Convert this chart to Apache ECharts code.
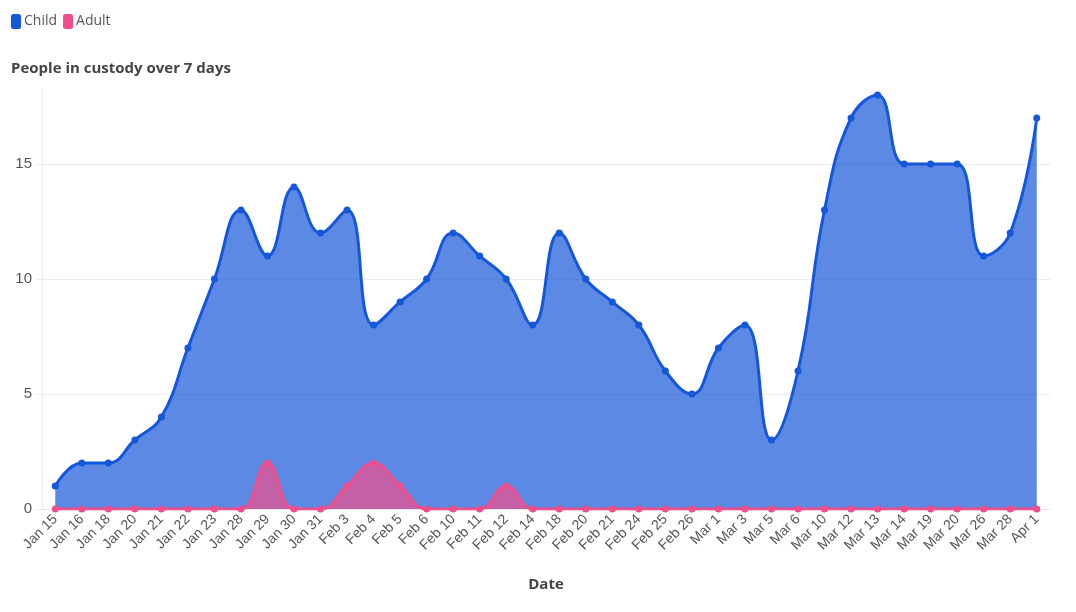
<!DOCTYPE html>
<html>
<head>
<meta charset="utf-8">
<script src="https://cdn.jsdelivr.net/npm/echarts@6/dist/echarts.min.js"></script>
<style>
  html, body { margin: 0; padding: 0; background: #fff; }
  #main { width: 1076px; height: 612px; }
</style>
</head>
<body>
<div id="main"></div>
<script>
// dates on the x axis
var dates = ['Jan 15', 'Jan 16', 'Jan 18', 'Jan 20', 'Jan 21', 'Jan 22', 'Jan 23', 'Jan 28', 'Jan 29', 'Jan 30',
  'Jan 31', 'Feb 3', 'Feb 4', 'Feb 5', 'Feb 6', 'Feb 10', 'Feb 11', 'Feb 12', 'Feb 14', 'Feb 18',
  'Feb 20', 'Feb 21', 'Feb 24', 'Feb 25', 'Feb 26', 'Mar 1', 'Mar 3', 'Mar 5', 'Mar 6', 'Mar 10',
  'Mar 12', 'Mar 13', 'Mar 14', 'Mar 19', 'Mar 20', 'Mar 26', 'Mar 28', 'Apr 1'];

// people in custody
var child = [1, 2, 2, 3, 4, 7, 10, 13, 11, 14,
  12, 13, 8, 9, 10, 12, 11, 10, 8, 12,
  10, 9, 8, 6, 5, 7, 8, 3, 6, 13,
  17, 18, 15, 15, 15, 11, 12, 17];
var adult = [0, 0, 0, 0, 0, 0, 0, 0, 2, 0,
  0, 1, 2, 1, 0, 0, 0, 1, 0, 0,
  0, 0, 0, 0, 0, 0, 0, 0, 0, 0,
  0, 0, 0, 0, 0, 0, 0, 0];

var yTicks = [0, 5, 10, 15];

var chart = echarts.init(document.getElementById('main'));

var option = {
  animation: false,
  backgroundColor: '#fff',
  textStyle: { fontFamily: 'Open Sans' },
  legend: {
    left: 6,
    top: 9,
    itemWidth: 10,
    itemHeight: 15,
    itemGap: 6,
    icon: 'roundRect',
    textStyle: { fontSize: 14, color: '#555', fontFamily: 'Open Sans', padding: [0, 0, 0, -2] },
    data: ['Child', 'Adult']
  },
  title: {
    text: 'People in custody over 7 days',
    left: 6,
    top: 56,
    textStyle: { fontSize: 15, fontWeight: 'bold', color: '#444', fontFamily: 'Open Sans' }
  },
  grid: { left: 42, right: 26, top: 89, bottom: 103 },
  xAxis: {
    type: 'category',
    data: dates,
    boundaryGap: true,
    name: 'Date',
    nameLocation: 'middle',
    nameGap: 68,
    nameTextStyle: { fontSize: 15, fontWeight: 'bold', color: '#444', fontFamily: 'Open Sans' },
    axisLine: { show: true, lineStyle: { color: '#e6e6e6' } },
    axisTick: { show: false },
    axisLabel: {
      rotate: 45,
      interval: 0,
      margin: 8,
      fontSize: 14,
      color: '#555',
      fontFamily: 'Liberation Sans'
    }
  },
  yAxis: {
    type: 'value',
    min: 0,
    max: 18.26,
    interval: 5,
    axisLine: { show: true, lineStyle: { color: '#ebebeb' } },
    axisTick: { show: true, length: 6, lineStyle: { color: '#ebebeb' } },
    axisLabel: {
      fontSize: 15,
      color: '#555',
      margin: 10,
      fontFamily: 'Liberation Sans',
      showMaxLabel: false,
      formatter: function (v) { return yTicks.indexOf(v) >= 0 ? String(v) : ''; }
    },
    splitLine: { show: true, showMaxLine: false, lineStyle: { color: '#ececec' } }
  },
  series: [
    {
      name: 'Child',
      type: 'line',
      data: child,
      smooth: 0.45,
      symbol: 'circle',
      symbolSize: 7,
      color: '#1557d9',
      lineStyle: { width: 3, color: '#1557d9' },
      itemStyle: { color: '#1557d9' },
      areaStyle: { color: '#1557d9', opacity: 0.7 },
      z: 2
    },
    {
      name: 'Adult',
      type: 'line',
      data: adult,
      smooth: 0.45,
      symbol: 'circle',
      symbolSize: 7,
      color: '#ef4e8c',
      lineStyle: { width: 3, color: '#ef4e8c' },
      itemStyle: { color: '#ef4e8c' },
      areaStyle: { color: '#ef4e8c', opacity: 0.7 },
      z: 3
    }
  ]
};

chart.setOption(option);
</script>
</body>
</html>
